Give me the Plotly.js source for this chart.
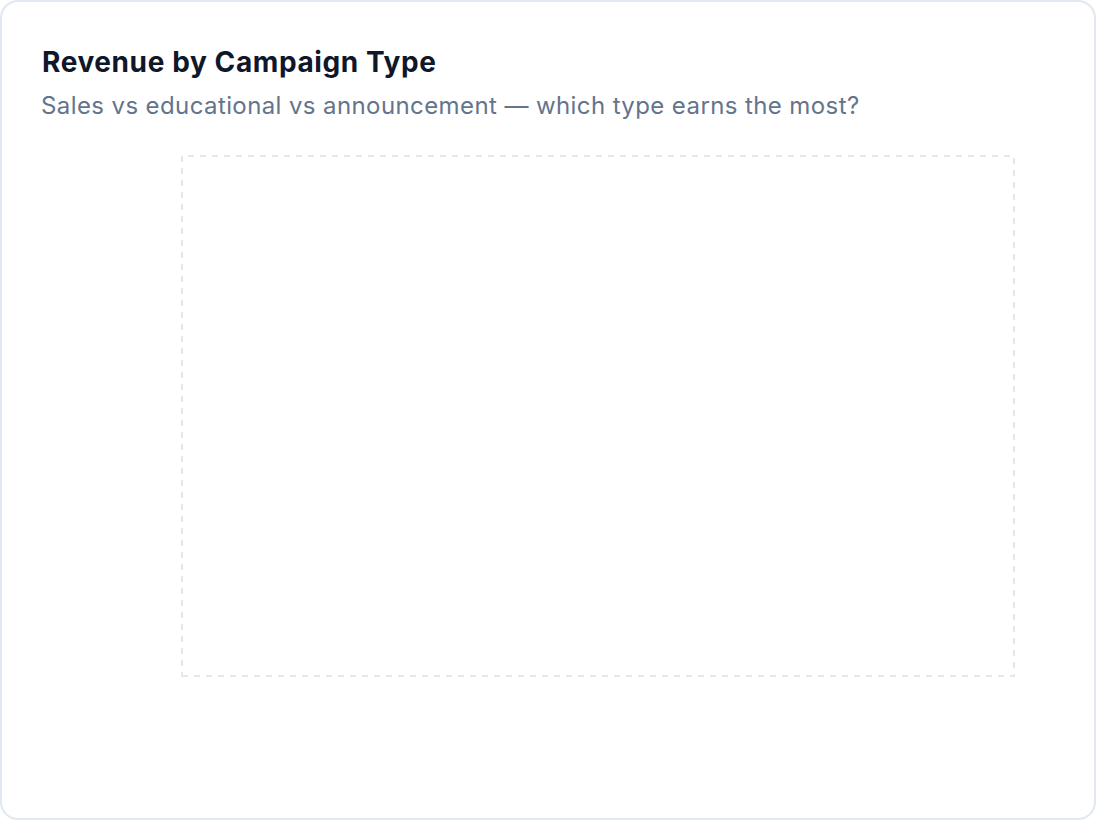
<!DOCTYPE html>
<html>
<head>
<meta charset="utf-8">
<script src="https://cdn.plot.ly/plotly-3.0.1.min.js"></script>
<style>
  html, body { margin: 0; padding: 0; background: #ffffff; }
  #card { position: absolute; left: 0; top: 0; width: 1096px; height: 820px; box-sizing: border-box;
          border: 2px solid #e2e8f0; border-radius: 18px; pointer-events: none; z-index: 5; }
  #chart { position: absolute; left: 0; top: 0; width: 1096px; height: 820px; }
  #chart .gtitle { letter-spacing: 0.6px; }
  #chart .annotation-text { letter-spacing: 0.4px; }
</style>
</head>
<body>
<div id="chart"></div>
<div id="card"></div>
<script>
// Data (the reference chart shows no plotted values)
const campaignTypes = [];
const revenueValues = [];

const titleText = "Revenue by Campaign Type";
const subtitleText = "Sales vs educational vs announcement \u2014 which type earns the most?";

const W = 1096, H = 820;
const margin = { l: 182, r: 82, t: 156, b: 144 };
const plotW = W - margin.l - margin.r;
const plotH = H - margin.t - margin.b;

const trace = {
  type: "bar",
  x: campaignTypes,
  y: revenueValues,
  marker: { color: "#6366f1" },
  hoverinfo: "skip"
};

const layout = {
  width: W,
  height: H,
  margin: margin,
  paper_bgcolor: "#ffffff",
  plot_bgcolor: "#ffffff",
  showlegend: false,
  font: { family: "Inter, 'Noto Sans', sans-serif", color: "#0f172a" },
  title: {
    text: titleText,
    xref: "container", yref: "container",
    x: 42 / W, xanchor: "left",
    y: 1 - 62 / H, yanchor: "middle",
    font: { family: "Inter, sans-serif", size: 28, weight: 700, color: "#0f172a" }
  },
  xaxis: { visible: false },
  yaxis: { visible: false },
  annotations: [{
    text: subtitleText,
    xref: "paper", yref: "paper",
    x: (52 - margin.l) / plotW, xanchor: "left",
    y: 1 + (margin.t - 106) / plotH, yanchor: "middle",
    showarrow: false,
    font: { family: "Inter, sans-serif", size: 24, color: "#64748b" }
  }],
  shapes: [{
    type: "rect", xref: "paper", yref: "paper",
    x0: 0, x1: 1, y0: 0, y1: 1,
    line: { color: "#e2e8f0", width: 2, dash: "6px,6px" },
    fillcolor: "rgba(0,0,0,0)"
  }]
};

Plotly.newPlot("chart", [trace], layout, { displayModeBar: false, staticPlot: true });
</script>
</body>
</html>
